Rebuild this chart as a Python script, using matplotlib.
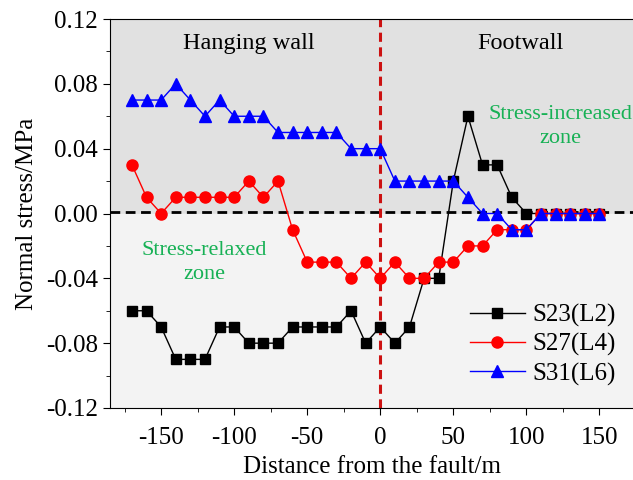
import numpy as np
import matplotlib.pyplot as plt
from matplotlib.ticker import MultipleLocator

plt.rcParams['font.family'] = ['Liberation Serif', 'DejaVu Serif']
plt.rcParams['axes.unicode_minus'] = False

x = np.arange(-170, 151, 10)
s23 = [-0.06, -0.06, -0.07, -0.09, -0.09, -0.09, -0.07, -0.07, -0.08, -0.08, -0.08,
       -0.07, -0.07, -0.07, -0.07, -0.06, -0.08, -0.07, -0.08, -0.07, -0.04, -0.04,
       0.02, 0.06, 0.03, 0.03, 0.01, 0.00, 0.00, 0.00, 0.00, 0.00, 0.00]
s27 = [0.03, 0.01, 0.00, 0.01, 0.01, 0.01, 0.01, 0.01, 0.02, 0.01, 0.02,
       -0.01, -0.03, -0.03, -0.03, -0.04, -0.03, -0.04, -0.03, -0.04, -0.04, -0.03,
       -0.03, -0.02, -0.02, -0.01, -0.01, -0.01, 0.00, 0.00, 0.00, 0.00, 0.00]
s31 = [0.07, 0.07, 0.07, 0.08, 0.07, 0.06, 0.07, 0.06, 0.06, 0.06, 0.05,
       0.05, 0.05, 0.05, 0.05, 0.04, 0.04, 0.04, 0.02, 0.02, 0.02, 0.02,
       0.02, 0.01, 0.00, 0.00, -0.01, -0.01, 0.00, 0.00, 0.00, 0.00, 0.00]

fig = plt.figure(figsize=(6.33, 4.8), dpi=100)
ax = fig.add_axes([0.1738, 0.15, 0.8262, 0.8104])
ax.set_xlim(-185, 173)
ax.set_ylim(-0.12, 0.12)

# shaded zones
ax.axhspan(0, 0.12, color='#e1e1e1', zorder=0)
ax.axhspan(-0.12, 0, color='#f3f3f3', zorder=0)

ax.axhline(0.001, color='black', ls=(0, (3.5, 2)), lw=2, zorder=1)
ax.axvline(0, color='#cc1111', ls=(0, (3, 1.8)), lw=2.2, zorder=1)

ax.plot(x, s23, color='black', lw=1, marker='s', ms=7, label='S23(L2)', zorder=3)
ax.plot(x, s27, color='red', lw=1, marker='o', ms=8, label='S27(L4)', zorder=4)
ax.plot(x, s31, color='blue', lw=1, marker='^', ms=9, label='S31(L6)', zorder=5)

ax.text(-90, 0.105, 'Hanging wall', ha='center', va='center', fontsize=17.5)
ax.text(96, 0.105, 'Footwall', ha='center', va='center', fontsize=17.5)
ax.text(123, 0.0535, 'Stress-increased\nzone', ha='center', va='center',
        fontsize=16, color='#17b155', linespacing=1.35)
ax.text(-120.5, -0.0305, 'Stress-relaxed\nzone', ha='center', va='center',
        fontsize=16, color='#17b155', linespacing=1.35)

ax.xaxis.set_major_locator(MultipleLocator(50))
ax.xaxis.set_minor_locator(MultipleLocator(25))
ax.yaxis.set_major_locator(MultipleLocator(0.04))
ax.yaxis.set_minor_locator(MultipleLocator(0.02))
ax.yaxis.set_major_formatter(plt.FormatStrFormatter('%.2f'))
ax.tick_params(which='both', direction='out', labelsize=18)
ax.tick_params(axis='x', which='major', pad=9)
ax.tick_params(which='major', length=5)
ax.tick_params(which='minor', length=3)
ax.spines['right'].set_visible(False)

ax.set_xlabel('Distance from the fault/m', fontsize=18, labelpad=5)
ax.set_ylabel('Normal stress/MPa', fontsize=18, labelpad=6)

ax.legend(loc='lower right', bbox_to_anchor=(1.01, 0.0), frameon=False,
          fontsize=18, handlelength=2.2, handletextpad=0.3, labelspacing=0.25)

fig.savefig('out.png', dpi=100)
